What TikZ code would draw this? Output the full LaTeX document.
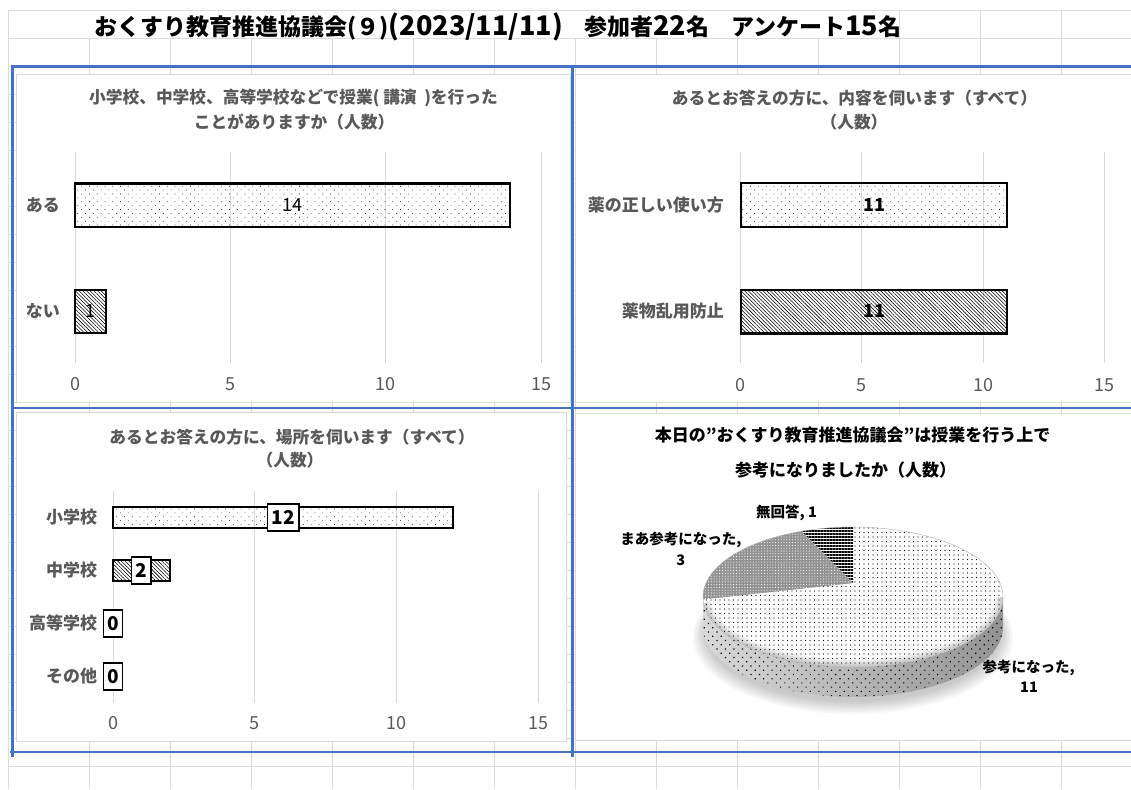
\documentclass[tikz,border=0pt]{standalone}
\usepackage{fontspec}
\setmainfont{Noto Sans CJK JP}
\usetikzlibrary{patterns.meta}
\definecolor{framebl}{HTML}{4472C4}
\definecolor{cellgr}{HTML}{DCDCDC}
\definecolor{axisgr}{HTML}{D9D9D9}
\definecolor{textgr}{HTML}{595959}
\def\px#1{\fontsize{#1pt}{#1pt}\selectfont}

\begin{document}
\begin{tikzpicture}[x=1pt,y=-1pt,
  cell/.style={draw=cellgr,line width=.8pt},
  blueline/.style={draw=framebl,line width=2.6pt},
  chartbox/.style={fill=white,draw=axisgr,line width=.9pt},
  vgrid/.style={draw=axisgr,line width=.9pt},
  head/.style={text=textgr,font=\px{16.7}\bfseries,inner sep=0pt},
  cattext/.style={text=textgr,font=\px{17}\bfseries,inner sep=0pt,anchor=east},
  ticktext/.style={text=textgr,font=\px{18},inner sep=0pt},
  bigtitle/.style={anchor=west,font=\px{23}\bfseries,inner sep=0pt},
  barline/.style={draw=black,line width=2.4pt},
  dotbar/.style={pattern={Dots[distance=5.5pt,angle=45,radius=.5pt]}},
  hatchbar/.style={pattern={Lines[angle=-45,distance=2.6pt,line width=.55pt]}},
  valbox/.style={draw=black,fill=white,line width=1.4pt,font=\px{19}\bfseries,inner xsep=4pt,inner ysep=0pt,minimum height=27pt},
  pietext/.style={font=\px{14.5}\bfseries,inner sep=0pt}]
\useasboundingbox (0,0) rectangle (1131,789);

\foreach \k in {0,...,27} \draw[cell] (8,{10+28*\k}) -- (1131,{10+28*\k});
\foreach \k in {0,...,13} \draw[cell] ({8+81*\k},38) -- ({8+81*\k},789);
\foreach \k in {0,11,12,13} \draw[cell] ({8+81*\k},10) -- ({8+81*\k},38);

\node[bigtitle] (maintitle) at (94.3,26.7) {おくすり教育推進協議会(９){\px{27}(2023/11/11)}};
\node[bigtitle] (members) at (584,26.7) {参加者{\px{27}22}名};
\node[bigtitle] (answers) at (731,26.7) {アンケート{\px{27}15}名};

% 授業経験
\draw[chartbox] (16.5,74.5) rectangle (570,402.5);
\node[head] (tlh1) at (293.5,98) {小学校、中学校、高等学校などで授業(\ 講演\ \ )を行った};
\node[head] (tlh2) at (294,121.7) {ことがありますか（人数）};
\foreach \v/\n in {0/0,5/1,10/2,15/3}{
  \draw[vgrid] ({75.1+31.08*\v},151.7) -- ({75.1+31.08*\v},363.3);
  \node[ticktext] (tlt\n) at ({75.1+31.08*\v},384) {\v};
}
\draw[barline,dotbar] (75.1,183.3) rectangle (510.2,226.7);
\draw[barline,hatchbar] (75.1,290) rectangle (106.2,332.7);
\node[font=\px{18},inner sep=0pt] (tlv1) at (292.6,205) {14};
\node[font=\px{18},inner sep=0pt] (tlv2) at (90.6,311) {1};
\node[cattext] (tlc1) at (60,205) {ある};
\node[cattext] (tlc2) at (60,311) {ない};

% 内容
\draw[chartbox] (575,74.5) rectangle (1140,402.5);
\node[head] (trh1) at (854.5,98.3) {あるとお答えの方に、内容を伺います（すべて）};
\node[head] (trh2) at (854,121.7) {（人数）};
\foreach \v/\n in {0/0,5/1,10/2,15/3}{
  \draw[vgrid] ({740.7+24.23*\v},151.7) -- ({740.7+24.23*\v},363.3);
  \node[ticktext] (trt\n) at ({740.7+24.23*\v},385) {\v};
}
\draw[barline,dotbar] (740.7,182.7) rectangle (1007.2,226.7);
\draw[barline,hatchbar] (740.7,290) rectangle (1007.2,333.3);
\node[font=\px{18}\bfseries,inner sep=0pt] (trv1) at (874,205) {11};
\node[font=\px{18}\bfseries,inner sep=0pt] (trv2) at (874,311) {11};
\node[cattext] (trc1) at (724,205) {薬の正しい使い方};
\node[cattext] (trc2) at (724,311) {薬物乱用防止};

% 場所
\draw[chartbox] (16.5,412.7) rectangle (566,741);
\node[head] (blh1) at (292,436.7) {あるとお答えの方に、場所を伺います（すべて）};
\node[head] (blh2) at (290,460) {（人数）};
\foreach \v/\n in {0/0,5/1,10/2,15/3}{
  \draw[vgrid] ({113.2+28.34*\v},490.7) -- ({113.2+28.34*\v},702.7);
  \node[ticktext] (blt\n) at ({113.2+28.34*\v},722.7) {\v};
}
\draw[barline,line width=1.8pt,dotbar] (113.2,506.7) rectangle (453.3,527.7);
\draw[barline,line width=1.8pt,hatchbar] (113.2,560) rectangle (169.9,581.3);
\node[valbox] (blv1) at (283.3,517.5) {12};
\node[valbox] (blv2) at (141.2,570.3) {2};
\node[valbox] (blv3) at (113,623.3) {0};
\node[valbox] (blv4) at (113,676.3) {0};
\node[cattext] (blc1) at (97.3,517) {小学校};
\node[cattext] (blc2) at (97.3,570) {中学校};
\node[cattext] (blc3) at (97.3,623) {高等学校};
\node[cattext] (blc4) at (97.3,676) {その他};

% 参考になったか
\draw[chartbox] (575,413) rectangle (1140,740.5);
\node[font=\px{17}\bfseries,inner sep=0pt] (brh1) at (852.6,435) {本日の”おくすり教育推進協議会”は授業を行う上で};
\node[font=\px{17}\bfseries,inner sep=0pt] (brh2) at (845.5,470) {参考になりましたか（人数）};
\coordinate (pc) at (853,583);
\foreach \k in {0,...,6} \fill[black,opacity=.03] (853,{632+\k}) ellipse [x radius={148+2*\k}, y radius={70+\k}];
\shade[left color=gray!30,middle color=white,right color=gray!85]
  plot[domain=180:360,samples=60] ({853+150*cos(\x)},{597-70*sin(\x)})
  -- plot[domain=360:180,samples=60] ({853+150*cos(\x)},{627-70*sin(\x)}) -- cycle;
\fill[pattern={Dots[distance=6pt,angle=45,radius=.8pt]}]
  plot[domain=180:360,samples=60] ({853+150*cos(\x)},{597-70*sin(\x)})
  -- plot[domain=360:180,samples=60] ({853+150*cos(\x)},{627-70*sin(\x)}) -- cycle;
\path[preaction={fill=white},pattern={Dots[distance=4.5pt,radius=.55pt]}]
  (pc) -- plot[domain=182:450,samples=90] ({853+150*cos(\x)},{597-70*sin(\x)}) -- cycle;
\begin{scope}
  \clip plot[domain=0:360,samples=120] ({853+150*cos(\x)},{597-70*sin(\x)});
  \foreach \w in {14,9,5} \draw[black,opacity=.07,line width=\w pt] plot[domain=185:360,samples=60] ({853+150*cos(\x)},{597-70*sin(\x)});
\end{scope}
\path[preaction={fill=gray!85},pattern={Dots[distance=2.8pt,radius=.55pt]},pattern color=white]
  (pc) -- plot[domain=110:182,samples=30] ({853+150*cos(\x)},{597-70*sin(\x)}) -- cycle;
\path[preaction={fill=white},pattern={Lines[angle=0,distance=3pt,line width=1.3pt]}]
  (pc) -- plot[domain=90:110,samples=12] ({853+150*cos(\x)},{597-70*sin(\x)}) -- cycle;
\draw[gray!60,line width=.4pt] plot[domain=0:360,samples=120] ({853+150*cos(\x)},{597-70*sin(\x)});
\node[pietext] (pl1) at (786.5,513.3) {無回答, 1};
\node[pietext] (pl2) at (680.9,540) {まあ参考になった,};
\node[pietext] (pl2n) at (680.9,560) {3};
\node[pietext] (pl3) at (1028.7,668.3) {参考になった,};
\node[pietext] (pl3n) at (1029,687.3) {11};

\draw[blueline] (12,66.5) -- (1131,66.5);
\draw[blueline] (12,408) -- (1131,408);
\draw[blueline] (10,752) -- (1131,752);
\draw[blueline] (12.5,65.2) -- (12.5,757);
\draw[blueline] (572.5,65.2) -- (572.5,757);
\end{tikzpicture}
\end{document}
